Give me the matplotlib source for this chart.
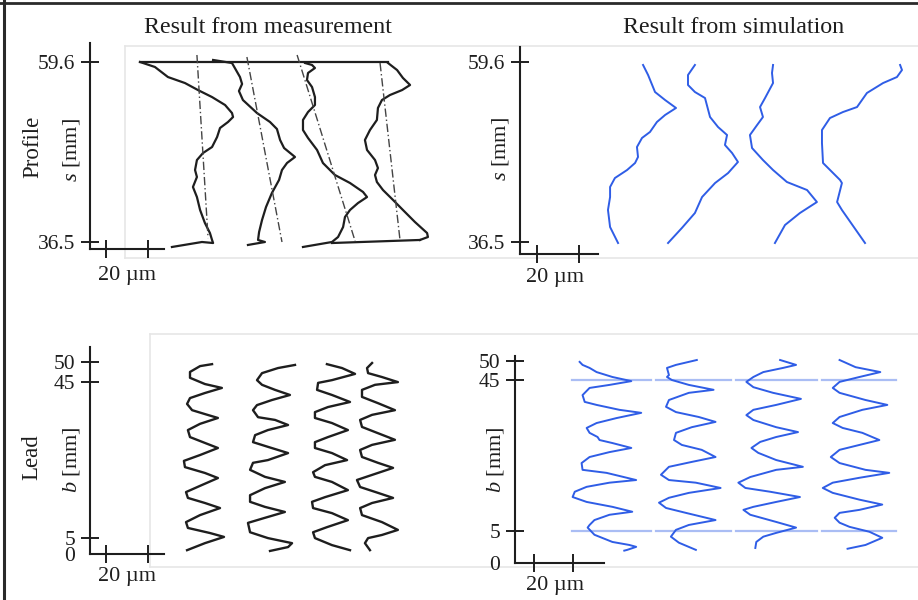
import numpy as np
import matplotlib
matplotlib.use("Agg")
import matplotlib.pyplot as plt
from matplotlib.lines import Line2D

plt.rcParams['font.family'] = ['Liberation Serif', 'DejaVu Serif']
plt.rcParams['mathtext.fontset'] = 'custom'
plt.rcParams['mathtext.rm'] = 'Liberation Serif'
plt.rcParams['mathtext.it'] = 'Liberation Serif:italic'

# ---------------- data ----------------
# Profile, measurement (x: deviation position in um, s in mm)
meas_p1_um = [16.2, 23.3, 29.5, 37.6, 43.8, 50.5, 56.7, 60.0, 60.5, 58.1, 54.3, 52.9, 50.5, 46.2, 43.3, 42.4, 43.3, 41.4, 43.3, 44.8, 47.1, 49.5, 50.5, 51.0, 45.7, 31.4]
meas_p1_s = [59.6, 58.96, 57.67, 56.9, 56.0, 55.1, 54.08, 53.05, 52.54, 51.9, 51.13, 49.97, 48.69, 47.92, 47.02, 45.74, 44.84, 43.56, 42.27, 40.61, 38.94, 37.65, 36.76, 36.37, 36.5, 35.86]
meas_p2_um = [51.0, 60.0, 63.8, 64.8, 63.3, 65.2, 71.9, 78.1, 81.4, 82.9, 84.8, 90.0, 86.2, 83.8, 82.4, 79.0, 76.2, 74.3, 72.9, 72.4, 75.7, 67.6]
meas_p2_s = [59.86, 59.47, 57.67, 56.78, 55.88, 54.72, 53.05, 51.9, 51.0, 49.59, 48.56, 47.41, 46.64, 45.74, 44.46, 42.79, 40.99, 39.32, 37.78, 36.76, 36.5, 36.12]
meas_p3_um = [94.8, 98.1, 99.5, 96.2, 95.7, 98.1, 99.5, 99.5, 96.2, 93.8, 93.8, 96.2, 100.5, 103.3, 109.0, 116.2, 122.4, 124.3, 120.0, 116.2, 113.8, 112.9, 110.5, 107.6, 93.8]
meas_p3_s = [59.47, 59.22, 58.83, 58.19, 57.29, 56.39, 55.1, 54.08, 53.18, 52.16, 50.87, 49.85, 48.31, 46.64, 45.1, 44.07, 42.92, 42.27, 41.5, 40.61, 39.71, 38.42, 37.14, 36.5, 35.86]
meas_p4_um = [134.3, 138.6, 141.4, 144.8, 141.0, 135.2, 131.4, 129.5, 129.0, 125.7, 123.3, 124.3, 128.1, 129.5, 128.1, 129.0, 131.9, 136.7, 141.4, 147.1, 152.9, 153.3, 149.5]
meas_p4_s = [59.47, 58.57, 57.55, 56.65, 56.0, 55.36, 54.72, 53.7, 52.16, 50.87, 49.59, 48.31, 47.02, 45.99, 45.1, 44.2, 43.17, 41.89, 40.61, 39.07, 37.65, 37.14, 36.76]
meas_top_um = [16.2, 134.3]
meas_top_s = [59.6, 59.6]
meas_bot_um = [107.6, 149.5]
meas_bot_s = [36.37, 36.76]
# dash-dot nominal lines (top and bottom ends)
nom_top_um = [43.3, 67.1, 91.0, 130.5]
nom_top_s = [60.5, 60.24, 60.5, 59.47]
nom_bot_um = [48.6, 83.8, 118.6, 140.0]
nom_bot_s = [37.0, 36.5, 36.63, 36.76]

# Profile, simulation
sim_p1_um = [50.5, 52.9, 56.2, 61.0, 66.2, 61.0, 57.1, 53.8, 50.0, 47.6, 48.1, 46.7, 42.9, 37.1, 34.8, 34.8, 33.8, 34.8, 38.6]
sim_p1_s = [59.22, 57.93, 55.75, 54.72, 53.7, 52.8, 51.9, 50.62, 49.85, 48.69, 47.41, 46.64, 45.74, 44.71, 43.56, 42.27, 40.61, 38.42, 36.37]
sim_p2_um = [75.2, 71.9, 71.9, 75.2, 80.0, 82.4, 86.2, 90.5, 89.5, 92.9, 95.7, 91.0, 84.8, 78.6, 75.2, 69.0, 62.4]
sim_p2_s = [59.22, 57.93, 56.65, 55.75, 54.98, 52.54, 51.26, 50.23, 48.95, 47.92, 46.77, 45.35, 44.07, 42.27, 40.22, 38.3, 36.37]
sim_p3_um = [112.4, 111.9, 112.4, 108.6, 106.2, 107.6, 104.8, 101.4, 102.4, 107.6, 112.4, 119.0, 128.6, 133.3, 125.2, 118.1, 113.3]
sim_p3_s = [59.22, 58.19, 56.9, 54.98, 53.82, 52.54, 51.51, 50.23, 48.56, 47.02, 45.74, 44.2, 43.17, 41.63, 40.22, 38.68, 36.37]
sim_p4_um = [172.9, 173.8, 171.4, 164.8, 157.1, 152.4, 145.7, 139.5, 135.7, 135.7, 136.2, 144.3, 145.2, 142.9, 145.2, 156.2]
sim_p4_s = [59.22, 58.57, 57.67, 56.9, 55.62, 53.82, 53.18, 52.41, 50.87, 49.2, 46.64, 44.46, 44.07, 41.63, 40.61, 36.37]

# Lead, measurement (x in um, b in mm)
meas_l1_um = [50.5, 44.8, 40.0, 40.0, 47.1, 55.2, 47.1, 40.0, 38.6, 41.0, 47.1, 53.3, 44.8, 39.0, 40.0, 47.1, 53.3, 44.8, 37.1, 37.6, 47.1, 53.3, 44.8, 38.1, 39.0, 47.1, 54.3, 44.8, 38.1, 39.0, 49.5, 56.2, 47.1, 38.6]
meas_l1_b = [49.5, 49.0, 47.5, 46.0, 44.4, 43.4, 42.1, 40.8, 39.3, 37.7, 36.7, 35.7, 34.2, 32.6, 30.8, 29.3, 28.0, 26.2, 24.7, 23.1, 21.6, 20.3, 18.3, 16.7, 15.2, 13.9, 12.6, 10.8, 9.0, 7.5, 6.2, 5.2, 3.6, 1.8]
meas_l2_um = [90.0, 81.9, 74.3, 71.9, 74.3, 80.5, 87.6, 79.0, 71.9, 70.0, 72.4, 80.5, 86.7, 77.1, 71.0, 70.0, 77.1, 86.7, 77.1, 70.0, 68.6, 75.7, 85.2, 75.7, 68.6, 68.6, 75.7, 85.2, 75.7, 67.6, 68.6, 77.1, 88.6, 86.7, 78.1]
meas_l2_b = [49.3, 48.5, 47.2, 45.4, 44.2, 42.9, 41.6, 40.3, 39.0, 37.7, 35.9, 35.2, 33.9, 32.6, 31.3, 29.5, 28.3, 26.7, 24.9, 24.2, 22.4, 20.6, 19.3, 17.7, 15.9, 14.2, 12.9, 11.6, 10.1, 8.8, 6.4, 4.9, 3.6, 2.6, 1.6]
meas_l3_um = [105.2, 112.4, 118.6, 107.6, 101.0, 100.5, 107.6, 116.2, 105.7, 99.5, 99.5, 107.6, 115.2, 105.7, 99.5, 99.5, 107.6, 114.8, 104.3, 98.6, 99.5, 107.6, 115.2, 104.3, 98.1, 98.6, 107.6, 115.2, 105.2, 98.6, 99.5, 107.6, 116.2]
meas_l3_b = [49.5, 48.5, 47.0, 45.4, 44.7, 42.9, 41.6, 39.8, 38.5, 37.2, 35.7, 34.4, 32.6, 30.8, 29.5, 28.0, 26.7, 24.9, 23.6, 21.8, 20.6, 19.3, 17.2, 15.4, 14.2, 12.6, 11.3, 9.5, 7.7, 6.4, 4.9, 3.1, 1.8]
meas_l4_um = [126.7, 124.3, 124.8, 131.4, 139.0, 128.1, 121.9, 121.9, 129.5, 137.6, 126.7, 121.0, 121.9, 129.5, 137.6, 126.7, 121.0, 121.9, 129.5, 136.7, 126.7, 119.5, 121.0, 129.5, 136.7, 126.7, 121.0, 121.9, 131.4, 139.0, 131.4, 124.8, 123.3, 125.7]
meas_l4_b = [49.8, 48.5, 47.2, 46.2, 44.9, 44.2, 42.9, 41.1, 39.5, 37.7, 36.5, 35.2, 33.4, 31.8, 30.1, 28.8, 27.5, 25.7, 24.2, 22.9, 21.1, 19.8, 18.0, 16.5, 15.2, 13.9, 12.6, 10.8, 9.0, 7.0, 5.7, 4.9, 3.6, 1.8]

# Lead, simulation
sim_l1_um = [23.4, 24.9, 28.5, 32.1, 40.2, 49.9, 38.7, 28.5, 24.9, 26.0, 32.1, 43.8, 55.0, 42.2, 32.1, 27.0, 28.5, 32.6, 33.6, 40.2, 49.9, 38.7, 28.5, 24.4, 24.9, 37.2, 52.4, 38.7, 27.0, 20.9, 19.8, 27.0, 40.2, 50.4, 38.7, 31.0, 28.5, 27.5, 31.0, 40.2, 48.9, 52.4, 47.8, 46.3]
sim_l1_b = [49.8, 49.0, 48.2, 47.1, 45.8, 44.7, 43.7, 42.9, 41.0, 39.2, 38.4, 37.1, 36.3, 34.9, 33.6, 32.3, 31.0, 29.9, 29.1, 28.3, 27.0, 25.9, 24.6, 23.0, 21.2, 20.4, 18.5, 17.8, 16.7, 15.4, 14.0, 12.7, 11.4, 10.1, 9.3, 7.9, 6.6, 5.9, 4.0, 2.1, 1.3, 0.8, 0.0, -0.2]
sim_l2_um = [83.5, 72.8, 68.2, 69.2, 68.2, 70.7, 79.4, 92.1, 79.4, 69.2, 67.7, 72.8, 84.5, 93.1, 80.9, 72.8, 71.8, 75.8, 86.0, 93.1, 80.9, 69.2, 65.1, 69.2, 83.0, 95.7, 79.4, 69.2, 64.1, 67.7, 77.9, 93.1, 79.4, 72.8, 70.2, 74.3, 83.0]
sim_l2_b = [50.3, 49.0, 48.2, 46.3, 45.8, 45.0, 43.7, 42.4, 41.6, 39.7, 37.9, 36.5, 35.2, 33.9, 32.5, 31.0, 29.1, 27.8, 26.5, 24.6, 23.3, 22.0, 19.9, 18.5, 17.8, 16.4, 15.1, 13.8, 12.5, 11.1, 9.8, 7.9, 6.6, 5.3, 3.5, 1.9, 0.0]
sim_l3_um = [126.2, 134.4, 127.7, 117.6, 112.5, 108.9, 112.5, 122.6, 136.9, 124.2, 112.5, 108.9, 112.5, 124.2, 135.4, 124.2, 116.0, 111.5, 115.0, 124.2, 137.9, 124.2, 110.9, 104.8, 108.4, 121.1, 136.4, 124.2, 112.5, 107.4, 110.9, 124.2, 134.4, 124.2, 117.6, 114.0, 113.5]
sim_l3_b = [50.3, 49.0, 48.2, 47.1, 45.8, 44.5, 43.1, 41.6, 40.0, 38.4, 37.1, 35.7, 34.4, 32.5, 31.2, 29.9, 28.6, 27.0, 25.7, 23.8, 22.0, 21.2, 19.3, 17.8, 16.4, 15.4, 14.0, 12.7, 11.4, 10.6, 9.3, 7.4, 5.9, 4.5, 3.5, 2.1, 0.5]
sim_l4_um = [156.7, 164.9, 177.6, 166.9, 156.7, 153.2, 156.7, 170.0, 181.2, 168.4, 156.7, 153.2, 158.3, 168.4, 177.1, 166.9, 156.7, 152.2, 156.7, 170.0, 182.2, 166.9, 153.2, 148.1, 153.2, 166.9, 178.6, 166.9, 156.7, 154.2, 156.7, 161.8, 172.0, 178.6, 170.0, 160.8]
sim_l4_b = [50.3, 48.4, 47.1, 45.8, 44.5, 42.9, 41.6, 39.7, 38.4, 37.1, 35.2, 33.6, 32.3, 31.0, 29.1, 27.8, 26.5, 24.6, 23.0, 21.2, 20.4, 19.1, 17.8, 16.4, 15.1, 13.3, 12.0, 10.6, 9.8, 8.5, 7.2, 6.1, 4.8, 3.2, 1.3, 0.3]
# evaluation-range guide lines (b = 5 and 45 mm) per tooth
guide_b = [45, 5]
guide_x0 = [19.3, 62.6, 103.8, 147.6]
guide_x1 = [60.1, 100.8, 145.0, 185.8]

profile_ticks = [36.5, 59.6]
profile_ticklabels = ['36.5', '59.6']
lead_ticks = [5, 45, 50]
lead_ticklabels = ['5', '45', '50']
scale_ticks = [0, 20]
scale_label = '20 µm'

# ---------------- figure ----------------
W, H = 918, 600
fig = plt.figure(figsize=(W / 100, H / 100), dpi=100)
fig.patch.set_facecolor('white')

INK = '#1e1e1e'
BLUE = '#2f5de6'
GUIDE = '#aabdf4'
FAINT = '#e6e6e6'


def lin(p0, v0, p1, v1):
    return lambda p: v0 + (p - p0) * (v1 - v0) / (p1 - p0)


def fline(xs, ys, **kw):
    fig.add_artist(Line2D([x / W for x in xs], [1 - y / H for y in ys],
                          transform=fig.transFigure, **kw))


def ftext(px, py, s, **kw):
    fig.text(px / W, 1 - py / H, s, **kw)


# faint frames of the original embedded pictures and outer border
for xs, ys in [([125, 125], [46, 258]), ([125, 918], [46, 46]), ([125, 918], [258, 258]),
               ([150, 150], [334, 567]), ([150, 918], [334, 334]), ([150, 918], [567, 567])]:
    fline(xs, ys, color=FAINT, lw=1.2, zorder=-1)
fline([0, 918], [3, 3], color='#2a2a2a', lw=2.0, zorder=-1)
fline([4, 4], [0, 600], color='#2a2a2a', lw=2.2, zorder=-1)


def panel(box, xanch, yanch, spine_px, xaxis_py, xend_px, ytop_py, yticks, ylabels, zero_label=False):
    l, t, r, b = box
    fx = lin(*xanch)
    fy = lin(*yanch)
    ax = fig.add_axes([l / W, 1 - b / H, (r - l) / W, (b - t) / H])
    ax.set_xlim(fx(l), fx(r))
    ax.set_ylim(fy(b), fy(t))
    ax.patch.set_alpha(0)
    for sp in ('top', 'right'):
        ax.spines[sp].set_visible(False)
    for sp in ('left', 'bottom'):
        ax.spines[sp].set_linewidth(1.5)
        ax.spines[sp].set_color(INK)
    ax.spines['left'].set_position(('data', fx(spine_px)))
    ax.spines['left'].set_bounds(fy(xaxis_py), fy(ytop_py))
    ax.spines['bottom'].set_position(('data', fy(xaxis_py)))
    ax.spines['bottom'].set_bounds(fx(spine_px), fx(xend_px))
    ax.set_xticks(scale_ticks)
    ax.set_xticklabels(['' for _ in scale_ticks])
    yt = list(yticks)
    yl = list(ylabels)
    if zero_label:
        yt = [fy(xaxis_py)] + yt
        yl = ['0'] + yl
    ax.set_yticks(yt)
    ax.set_yticklabels(yl)
    ax.tick_params(axis='both', direction='inout', length=13, width=1.4,
                   color=INK, labelcolor=INK, labelsize=15.5, pad=4)
    if zero_label:
        ax.yaxis.get_major_ticks()[0].tick1line.set_visible(False)
    return ax


# top-left: profile, measurement
ax_tl = panel((80, 35, 445, 265), (106, 0, 148, 20), (62, 59.6, 242, 36.5),
              90, 249, 164, 43, profile_ticks, profile_ticklabels)
for xs, ys in [(meas_p1_um, meas_p1_s), (meas_p2_um, meas_p2_s),
               (meas_p3_um, meas_p3_s), (meas_p4_um, meas_p4_s),
               (meas_top_um, meas_top_s), (meas_bot_um, meas_bot_s)]:
    ax_tl.plot(xs, ys, color=INK, lw=1.6, clip_on=False, solid_joinstyle='round')
for i in range(len(nom_top_um)):
    ax_tl.plot([nom_top_um[i], nom_bot_um[i]], [nom_top_s[i], nom_bot_s[i]],
               color='#444444', lw=1.0, linestyle=(0, (6, 2, 1, 2)), clip_on=False)

# top-right: profile, simulation
ax_tr = panel((505, 35, 915, 265), (537, 0, 579, 20), (62, 59.6, 242, 36.5),
              520, 254, 598, 47, profile_ticks, profile_ticklabels)
for xs, ys in [(sim_p1_um, sim_p1_s), (sim_p2_um, sim_p2_s),
               (sim_p3_um, sim_p3_s), (sim_p4_um, sim_p4_s)]:
    ax_tr.plot(xs, ys, color=BLUE, lw=1.4, clip_on=False)

# bottom-left: lead, measurement
ax_bl = panel((80, 340, 445, 565), (106, 0, 148, 20), (381.7, 45, 537.7, 5),
              90, 554, 164, 347, lead_ticks, lead_ticklabels, zero_label=True)
for xs, ys in [(meas_l1_um, meas_l1_b), (meas_l2_um, meas_l2_b),
               (meas_l3_um, meas_l3_b), (meas_l4_um, meas_l4_b)]:
    ax_bl.plot(xs, ys, color=INK, lw=1.7, clip_on=False, solid_joinstyle='round')

# bottom-right: lead, simulation
ax_br = panel((500, 345, 915, 575), (534, 0, 573, 20), (380, 45, 531, 5),
              515, 563, 604, 356, lead_ticks, lead_ticklabels, zero_label=True)
for gb in guide_b:
    for x0, x1 in zip(guide_x0, guide_x1):
        ax_br.plot([x0, x1], [gb, gb], color=GUIDE, lw=1.6, clip_on=False, zorder=1)
for xs, ys in [(sim_l1_um, sim_l1_b), (sim_l2_um, sim_l2_b),
               (sim_l3_um, sim_l3_b), (sim_l4_um, sim_l4_b)]:
    ax_br.plot(xs, ys, color=BLUE, lw=1.4, clip_on=False, zorder=2)

# texts
ftext(268, 33.3, 'Result from measurement', ha='center', va='baseline', fontsize=17.3, color=INK)
ftext(734, 33.3, 'Result from simulation', ha='center', va='baseline', fontsize=17.3, color=INK)
for (cx, by) in [(127.5, 280), (555.5, 281.5), (127.5, 581.5), (554.5, 590)]:
    ftext(cx, by, scale_label, ha='center', va='baseline', fontsize=16, color=INK)
ftext(33, 146.5, 'Profile', rotation=90, ha='center', va='center', fontsize=16.5, color=INK)
ftext(72, 150, '$s$ [mm]', rotation=90, ha='center', va='center', fontsize=16, color=INK)
ftext(501, 149.5, '$s$ [mm]', rotation=90, ha='center', va='center', fontsize=16, color=INK)
ftext(32, 457.5, 'Lead', rotation=90, ha='center', va='center', fontsize=16.5, color=INK)
ftext(71, 460, '$b$ [mm]', rotation=90, ha='center', va='center', fontsize=16, color=INK)
ftext(495, 459.5, '$b$ [mm]', rotation=90, ha='center', va='center', fontsize=16, color=INK)

fig.savefig('out.png', dpi=100, facecolor='white')
